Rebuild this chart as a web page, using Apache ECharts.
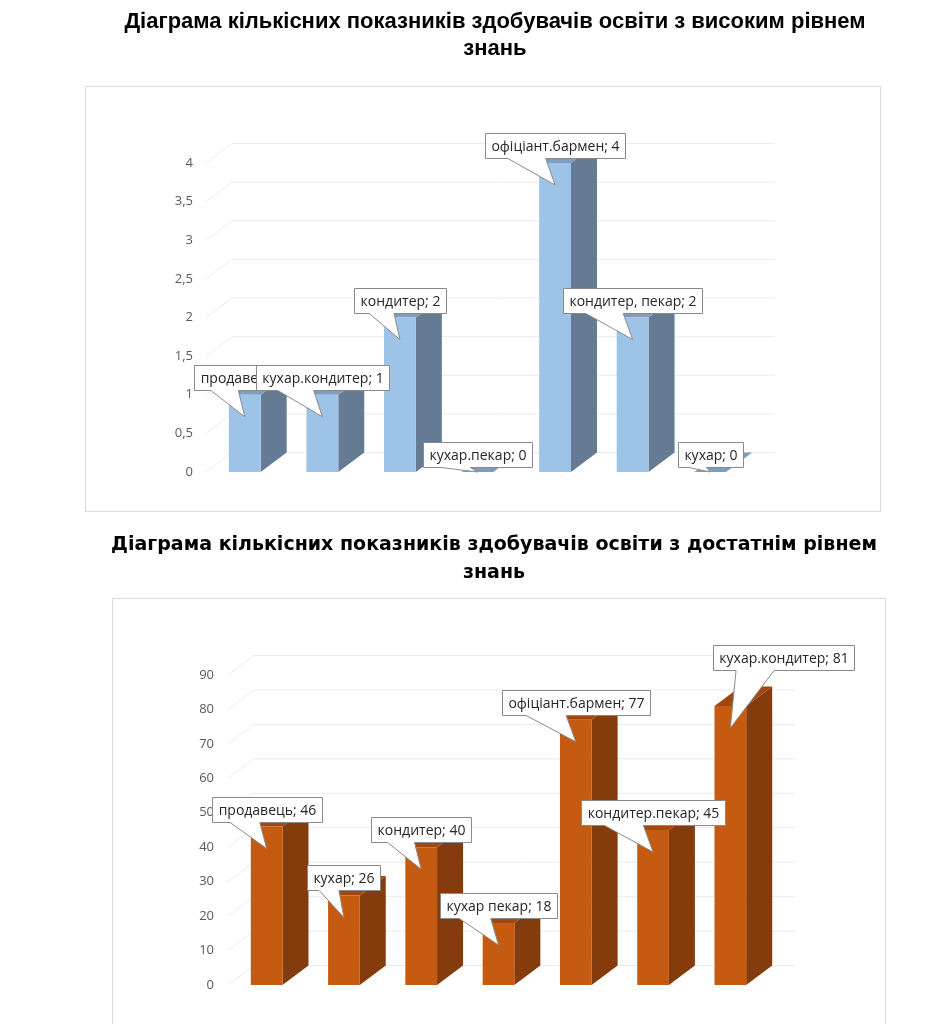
<!DOCTYPE html>
<html>
<head>
<meta charset="utf-8">
<script src="https://cdn.jsdelivr.net/npm/echarts@6/dist/echarts.min.js"></script>
<style>
  body { margin: 0; background: #fff; }
  #chart { width: 944px; height: 1024px; }
</style>
</head>
<body>
<div id="chart"></div>
<script>
// --- data: high level of knowledge
const highTitle = 'Діаграма кількісних показників здобувачів освіти з високим рівнем\nзнань';
const highNames = ['продавець', 'кухар.кондитер', 'кондитер', 'кухар.пекар', 'офіціант.бармен', 'кондитер, пекар', 'кухар'];
const highValues = [1, 1, 2, 0, 4, 2, 0];
const highTicks = [0, 0.5, 1, 1.5, 2, 2.5, 3, 3.5, 4];

// --- data: sufficient level of knowledge
const midTitle = 'Діаграма кількісних показників здобувачів освіти з достатнім рівнем\nзнань';
const midNames = ['продавець', 'кухар', 'кондитер', 'кухар пекар', 'офіціант.бармен', 'кондитер.пекар', 'кухар.кондитер'];
const midValues = [46, 26, 40, 18, 77, 45, 81];
const midTicks = [0, 10, 20, 30, 40, 50, 60, 70, 80, 90];

// callout nudges (px), only the last label in the second chart is moved
const highShift = [[0, 0], [0, 0], [0, 0], [0, 0], [0, 0], [0, 0], [0, 0]];
const midShift = [[0, 0], [0, 0], [0, 0], [0, 0], [0, 0], [0, 0], [53, -31]];

const DX = 26, DY = -19.5;
const LABEL_FONT = '14px "Open Sans", "Noto Sans", sans-serif';

const measure = document.createElement('canvas').getContext('2d');
function textWidth(s) {
  measure.font = LABEL_FONT;
  return measure.measureText(s).width;
}

function fmt(v) {
  return String(v).replace('.', ',');
}

function wallItem(params, api) {
  const cs = params.coordSys;
  const y = api.coord([0, api.value(1)])[1];
  return {
    type: 'polyline',
    shape: { points: [[cs.x, y], [cs.x + DX, y + DY], [cs.x + cs.width + DX, y + DY]] },
    style: { stroke: '#ebebeb', lineWidth: 1, fill: null }
  };
}

function barItem(colors) {
  return function (params, api) {
    const p = api.coord([api.value(0), api.value(1)]);
    const b = api.coord([api.value(0), 0]);
    const w = api.size([1, 0])[0] * 0.41;
    const x0 = p[0] - w / 2, x1 = p[0] + w / 2, t = p[1], bt = b[1];
    return {
      type: 'group',
      children: [
        { type: 'polygon', shape: { points: [[x1, t], [x1 + DX, t + DY], [x1 + DX, bt + DY], [x1, bt]] }, style: { fill: colors[1] } },
        { type: 'polygon', shape: { points: [[x0, t], [x0 + DX, t + DY], [x1 + DX, t + DY], [x1, t]] }, style: { fill: colors[2] } },
        { type: 'rect', shape: { x: x0, y: t, width: w, height: bt - t }, style: { fill: colors[0] } }
      ]
    };
  };
}

function calloutItem(names, shift) {
  return function (params, api) {
    const i = params.dataIndex;
    const v = api.value(1);
    const p = api.coord([api.value(0), v]);
    const b = api.coord([api.value(0), 0]);
    const txt = names[i] + '; ' + fmt(v);
    const bw = Math.round(textWidth(txt) + 12), bh = 25;
    const cx = p[0] + shift[i][0];
    const by1 = Math.round(p[1] - 5 + shift[i][1]) + 0.5;
    const by0 = by1 - bh;
    const bx0 = Math.round(cx - bw / 2) + 0.5, bx1 = bx0 + bw;
    const tip = [p[0], Math.min(p[1] + 22, b[1])];
    const w1 = bx0 + bw * 0.16, w2 = bx0 + bw * 0.43;
    return {
      type: 'group',
      children: [
        {
          type: 'polygon',
          shape: { points: [[bx0, by0], [bx1, by0], [bx1, by1], [w2, by1], tip, [w1, by1], [bx0, by1]] },
          style: { fill: '#fff', stroke: '#8a8a8a', lineWidth: 1 }
        },
        {
          type: 'text',
          style: { text: txt, x: (bx0 + bx1) / 2, y: (by0 + by1) / 2 + 1, align: 'center', verticalAlign: 'middle', font: LABEL_FONT, fill: '#262626' }
        }
      ]
    };
  };
}

const chart = echarts.init(document.getElementById('chart'));

const yAxisBase = {
  type: 'value',
  min: 0,
  axisLine: { show: false },
  axisTick: { show: false },
  splitLine: { show: false },
  axisLabel: { color: '#595959', fontSize: 13, fontFamily: 'Open Sans', formatter: fmt }
};
const xAxisBase = {
  type: 'category',
  axisLine: { show: false },
  axisTick: { show: false },
  axisLabel: { show: false },
  splitLine: { show: false }
};

chart.setOption({
  animation: false,
  graphic: [
    { type: 'rect', shape: { x: 85.5, y: 86.5, width: 795, height: 425 }, style: { fill: null, stroke: '#d9d9d9', lineWidth: 1 }, z: -1 },
    { type: 'rect', shape: { x: 112.5, y: 598.5, width: 773, height: 430 }, style: { fill: null, stroke: '#d9d9d9', lineWidth: 1 }, z: -1 },
    {
      type: 'text', x: 495, y: 8,
      style: { text: highTitle, align: 'center', font: 'bold 22px "Liberation Sans", sans-serif', lineHeight: 27, fill: '#000' }
    },
    {
      type: 'text', x: 494, y: 531,
      style: { text: midTitle, align: 'center', font: 'bold 19px "DejaVu Sans", sans-serif', lineHeight: 28, fill: '#000' }
    }
  ],
  grid: [
    { left: 206, top: 163, width: 543, height: 309 },
    { left: 228, top: 675, width: 541, height: 310 }
  ],
  xAxis: [
    Object.assign({ gridIndex: 0, data: highNames }, xAxisBase),
    Object.assign({ gridIndex: 1, data: midNames }, xAxisBase)
  ],
  yAxis: [
    Object.assign({}, yAxisBase, { gridIndex: 0, max: 4, interval: 0.5, axisLabel: Object.assign({}, yAxisBase.axisLabel, { margin: 13 }) }),
    Object.assign({}, yAxisBase, { gridIndex: 1, max: 90, interval: 10, axisLabel: Object.assign({}, yAxisBase.axisLabel, { margin: 14 }) })
  ],
  series: [
    { type: 'custom', xAxisIndex: 0, yAxisIndex: 0, z: 1, silent: true, renderItem: wallItem, data: highTicks.map(t => [0, t]) },
    { type: 'custom', xAxisIndex: 0, yAxisIndex: 0, z: 2, renderItem: barItem(['#9dc3e6', '#657b94', '#7f9cc1']), data: highValues.map((v, i) => [i, v]) },
    { type: 'custom', xAxisIndex: 0, yAxisIndex: 0, z: 3, renderItem: calloutItem(highNames, highShift), data: highValues.map((v, i) => [i, v]) },
    { type: 'custom', xAxisIndex: 1, yAxisIndex: 1, z: 1, silent: true, renderItem: wallItem, data: midTicks.map(t => [0, t]) },
    { type: 'custom', xAxisIndex: 1, yAxisIndex: 1, z: 2, renderItem: barItem(['#c55a11', '#843c0c', '#a2480f']), data: midValues.map((v, i) => [i, v]) },
    { type: 'custom', xAxisIndex: 1, yAxisIndex: 1, z: 3, renderItem: calloutItem(midNames, midShift), data: midValues.map((v, i) => [i, v]) }
  ]
});
</script>
</body>
</html>
